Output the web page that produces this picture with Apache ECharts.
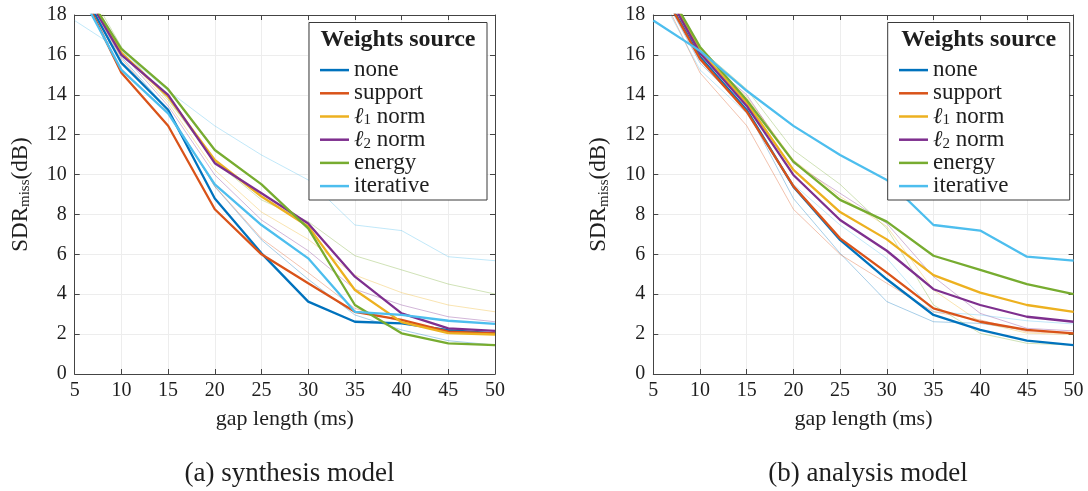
<!DOCTYPE html>
<html>
<head>
<meta charset="utf-8">
<script src="https://cdn.jsdelivr.net/npm/echarts@6/dist/echarts.min.js"></script>
<style>
html,body{margin:0;padding:0;background:#fff}
#chart{width:1088px;height:491px}
</style>
</head>
<body>
<div id="chart"></div>
<script>
// gap length (ms)
var gaps = [5, 10, 15, 20, 25, 30, 35, 40, 45, 50];
var names = ['none', 'support', 'l1', 'l2', 'energy', 'iterative'];
var colors = ['#0072BD', '#D95319', '#EDB120', '#7E2F8E', '#77AC30', '#4DBEEE'];

// synthesis model, SDR_miss (dB)
var synNone      = [19.9, 15.6, 13.25, 8.8, 6.05, 3.63, 2.62, 2.54, 2.2, 2.04];
var synSupport   = [19.9, 15.1, 12.45, 8.26, 6.0, 4.55, 3.12, 2.71, 2.12, 2.04];
var synL1        = [20.1, 16.1, 13.9, 10.73, 8.9, 7.4, 4.21, 2.6, 2.05, 1.98];
var synL2        = [20.0, 16.0, 14.0, 10.57, 9.06, 7.55, 4.88, 3.04, 2.29, 2.16];
var synEnergy    = [20.0, 16.3, 14.28, 11.23, 9.51, 7.3, 3.46, 2.04, 1.54, 1.45];
var synIterative = [19.6, 15.25, 13.07, 9.51, 7.47, 5.8, 3.12, 2.96, 2.67, 2.51];

// analysis model, SDR_miss (dB)
var anaNone      = [20.0, 15.9, 13.24, 9.39, 6.72, 4.75, 2.96, 2.21, 1.67, 1.45];
var anaSupport   = [20.0, 15.8, 13.15, 9.42, 6.8, 5.08, 3.29, 2.62, 2.21, 2.04];
var anaL1        = [20.4, 16.2, 13.6, 10.23, 8.12, 6.75, 4.96, 4.08, 3.46, 3.12];
var anaL2        = [20.3, 16.1, 13.44, 9.98, 7.72, 6.18, 4.25, 3.46, 2.87, 2.62];
var anaEnergy    = [20.5, 16.4, 13.74, 10.65, 8.73, 7.64, 5.93, 5.22, 4.51, 4.01];
var anaIterative = [17.72, 16.2, 14.2, 12.44, 10.98, 9.73, 7.47, 7.19, 5.88, 5.68];

var synData = [synNone, synSupport, synL1, synL2, synEnergy, synIterative];
var anaData = [anaNone, anaSupport, anaL1, anaL2, anaEnergy, anaIterative];

var FONT = 'Liberation Serif';
var TXT = '#1e1e1e';
var AX = '#444';

function pts(vals) {
	return gaps.map(function (g, i) { return [g, vals[i]]; });
}

var series = [];
// faint = the other model, drawn underneath
function addLines(data, gi, faint) {
	data.forEach(function (vals, k) {
		series.push({
			name: faint ? names[k] + '_faint' + gi : names[k],
			type: 'line',
			xAxisIndex: gi * 2,
			yAxisIndex: gi * 2,
			data: pts(vals),
			symbol: 'none',
			clip: true,
			z: faint ? 1 : 2 + k * 0.01,
			color: colors[k],
			lineStyle: { width: faint ? 1 : 2.3, opacity: faint ? 0.35 : 1, color: colors[k] },
			emphasis: { disabled: true },
			silent: true
		});
	});
}
addLines(anaData, 0, true);
addLines(synData, 0, false);
addLines(synData, 1, true);
addLines(anaData, 1, false);

function xAxes(gi) {
	var base = {
		type: 'value', gridIndex: gi, min: 5, max: 50, interval: 5,
		axisLine: { show: true, onZero: false, lineStyle: { color: AX, width: 1 } },
		axisTick: { show: true, inside: true, length: 5, lineStyle: { color: AX } }
	};
	return [
		Object.assign({}, base, {
			position: 'bottom',
			name: 'gap length (ms)', nameLocation: 'middle', nameGap: 34,
			nameTextStyle: { fontFamily: FONT, fontSize: 22, color: TXT },
			axisLabel: { margin: 7, fontFamily: FONT, fontSize: 20, color: TXT },
			splitLine: { show: true, lineStyle: { color: '#ededed', width: 1 } }
		}),
		Object.assign({}, base, {
			position: 'top',
			axisLabel: { show: false },
			splitLine: { show: false }
		})
	];
}

function yAxes(gi) {
	var base = {
		type: 'value', gridIndex: gi, min: 0, max: 18, interval: 2,
		axisLine: { show: true, onZero: false, lineStyle: { color: AX, width: 1 } },
		axisTick: { show: true, inside: true, length: 5, lineStyle: { color: AX } }
	};
	return [
		Object.assign({}, base, {
			position: 'left',
			name: '{a|SDR}{s|miss}{a|(dB)}', nameLocation: 'middle', nameGap: 42,
			nameTextStyle: {
				fontFamily: FONT, color: TXT,
				rich: {
					a: { fontFamily: FONT, fontSize: 23, color: TXT },
					s: { fontFamily: FONT, fontSize: 15, color: TXT, padding: [9, 0, 0, 0] }
				}
			},
			axisLabel: { margin: 8, fontFamily: FONT, fontSize: 20, color: TXT },
			splitLine: { show: true, lineStyle: { color: '#ededed', width: 1 } }
		}),
		Object.assign({}, base, {
			position: 'right',
			axisLabel: { show: false },
			splitLine: { show: false }
		})
	];
}

function legendLabel(name) {
	if (name === 'l1') return '{l|ℓ}{s|1}{n| norm}';
	if (name === 'l2') return '{l|ℓ}{s|2}{n| norm}';
	return '{n|' + name + '}';
}

function legend(left) {
	return {
		orient: 'vertical', left: left, top: 53.5,
		icon: 'rect', itemWidth: 29, itemHeight: 2.5, itemGap: 0,
		data: names, selectedMode: false, z: 20,
		formatter: legendLabel,
		textStyle: {
			fontFamily: FONT, fontSize: 23, lineHeight: 23.2, color: TXT,
			rich: {
				n: { fontFamily: FONT, fontSize: 23, lineHeight: 23.2, color: TXT },
				l: { fontFamily: FONT, fontSize: 23, lineHeight: 23.2, color: TXT, fontStyle: 'italic' },
				s: { fontFamily: FONT, fontSize: 15, lineHeight: 23.2, color: TXT, padding: [8, 0, 0, 0] }
			}
		}
	};
}

function legendBox(x, w) {
	return [
		{ type: 'rect', z: 10, shape: { x: x, y: 22.5, width: w, height: 177.5 },
		  style: { fill: '#fff', stroke: '#3a3a3a', lineWidth: 1 } },
		{ type: 'text', z: 21, x: x + w / 2, y: 39.5,
		  style: { text: 'Weights source', font: 'bold 24px "' + FONT + '"', fill: TXT,
		           textAlign: 'center', textVerticalAlign: 'middle' } }
	];
}

var option = {
	backgroundColor: '#fff',
	animation: false,
	grid: [
		{ left: 74.7, right: 593, top: 15, bottom: 117 },
		{ left: 653.3, right: 14.4, top: 15, bottom: 117 }
	],
	xAxis: xAxes(0).concat(xAxes(1)),
	yAxis: yAxes(0).concat(yAxes(1)),
	legend: [legend(315), legend(894)],
	title: [
		{ text: '(a) synthesis model', left: 284.5, top: 455, textAlign: 'center',
		  textStyle: { fontFamily: FONT, fontSize: 27, fontWeight: 'normal', color: TXT } },
		{ text: '(b) analysis model', left: 863, top: 455, textAlign: 'center',
		  textStyle: { fontFamily: FONT, fontSize: 27, fontWeight: 'normal', color: TXT } }
	],
	graphic: legendBox(309, 178).concat(legendBox(887.7, 182)),
	series: series
};

var chart = echarts.init(document.getElementById('chart'));
chart.setOption(option);
</script>
</body>
</html>
